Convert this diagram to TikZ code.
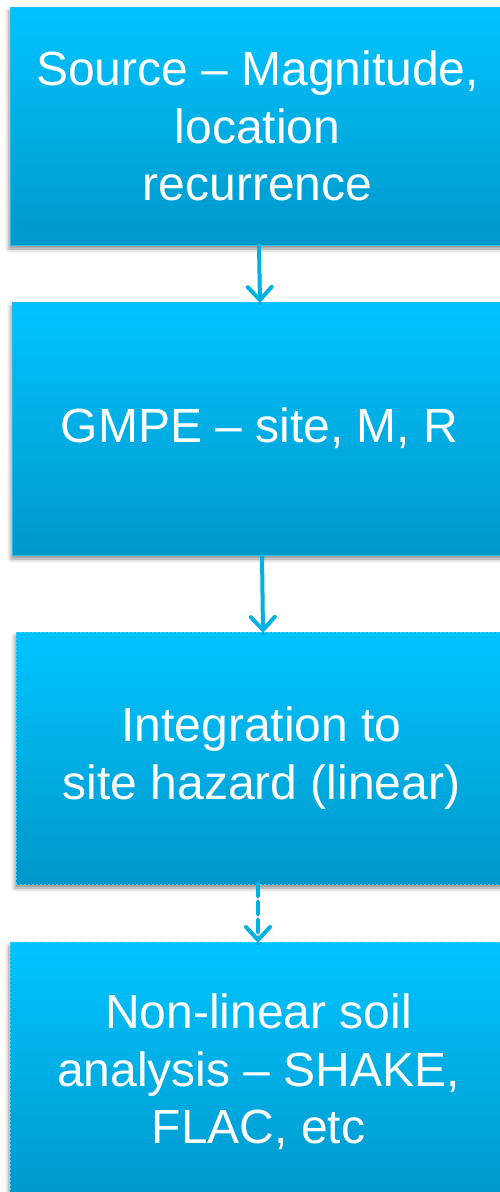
\documentclass[tikz,border=0pt]{standalone}
\usepackage{fontspec}
\setmainfont{Liberation Sans}
\usetikzlibrary{arrows.meta,shadows.blur,calc}

\definecolor{boxtop}{RGB}{0,196,255}
\definecolor{boxbottom}{RGB}{0,152,202}
\definecolor{boxedge}{RGB}{40,186,232}
\definecolor{arrowcol}{RGB}{0,178,228}

\tikzset{
  stepbox/.style={
    rectangle, inner sep=0pt, outer sep=0pt,
    minimum width=#1,
    top color=boxtop, bottom color=boxbottom,
    draw=boxedge, line width=1pt,
    text=white, align=center,
    font=\fontsize{48}{57.5}\selectfont,
    blur shadow={shadow xshift=-1pt, shadow yshift=-4pt,
                 shadow blur radius=4pt, shadow opacity=45}
  },
  dottededge/.style={dash pattern=on 2pt off 2pt, draw=boxedge!80},
  flow/.style={
    draw=arrowcol, line width=4pt, line cap=round,
    -{Straight Barb[length=13pt, width=24pt, line width=4pt, line cap=round, round]},
    blur shadow={shadow xshift=0pt, shadow yshift=-2pt,
                 shadow blur radius=2pt, shadow opacity=35}
  }
}

\begin{document}
\begin{tikzpicture}[x=1pt, y=-1pt]
  \useasboundingbox (0,0) rectangle (499,1192);

  % the four stages
  \node[stepbox=495pt, minimum height=238pt] (src) at (257.5,126)
    {Source – Magnitude,\\location\\recurrence};
  \node[stepbox=495pt, minimum height=253pt] (gmpe) at (259.5,428.5)
    {GMPE – site, M, R};
  \node[stepbox=491pt, minimum height=252pt, dottededge] (integ) at (261.5,758)
    {Integration to\\site hazard (linear)};
  \node[stepbox=497pt, minimum height=260pt, dottededge] (soil) at (258.5,1072)
    {Non-linear soil\\analysis – SHAKE,\\FLAC, etc};

  % connectors
  \draw[flow] ([xshift=1.5pt]src.south) -- ([xshift=0.5pt]gmpe.north);
  \draw[flow] ([xshift=2.5pt]gmpe.south) -- ([xshift=1.5pt]integ.north);
  \draw[flow, dash pattern=on 12pt off 6pt] ([xshift=-3.5pt]integ.south) -- ([xshift=-0.5pt]soil.north);
\end{tikzpicture}
\end{document}
